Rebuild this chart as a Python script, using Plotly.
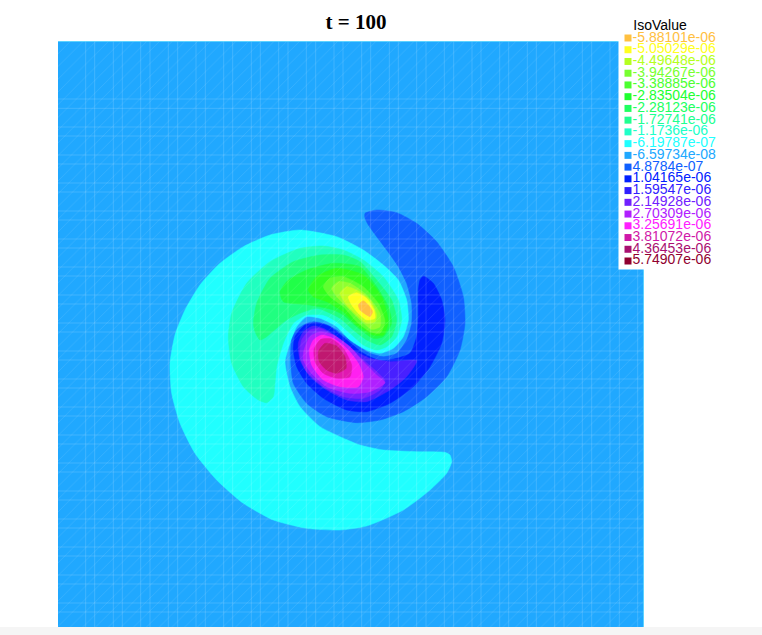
import plotly.graph_objects as go

iso_labels = ["-5.88101e-06","-5.05029e-06","-4.49648e-06","-3.94267e-06","-3.38885e-06","-2.83504e-06","-2.28123e-06",
              "-1.72741e-06","-1.1736e-06","-6.19787e-07","-6.59734e-08","4.8784e-07","1.04165e-06","1.59547e-06",
              "2.14928e-06","2.70309e-06","3.25691e-06","3.81072e-06","4.36453e-06","5.74907e-06"]
iso_colors = ["#ffc040","#ffff20","#b4ff20","#78ff30","#4cff30","#20ff30","#20ff60","#20ff90","#20ffc8","#20ffff",
              "#20a8ff","#1060ff","#0020ff","#3020ff","#7020ff","#b020ff","#ff20ff","#d018a8","#a81070","#900030"]

# Iso-contour outlines, in the field's own x / y units
cyan_x = [885,800,700,630,570,510,450,420,405,420,440,470,510,560,600,650,690,730,760,775,770,745,700,640,560,450,360,280,210,150,105,75,60,65,90,135,200,280,370,470,570,650,760,840,890,905,900]
cyan_y = [787,785,780,765,740,710,650,590,515,460,410,380,385,410,450,480,490,475,440,390,330,270,225,180,140,120,135,170,220,285,360,435,520,610,700,790,870,940,990,1015,1020,1008,960,900,850,815,795]

p05_x = [645,680,740,800,860,910,940,945,930,890,830,760,690,620,530,470,430,422,425,440,470,490,520,560,610,660,700,740,770,785,785,770,745,710,680,655,645]
p05_y = [70,60,68,100,155,230,320,400,480,560,620,665,690,698,680,640,580,510,450,420,400,395,400,420,460,490,500,490,450,400,340,280,230,180,140,105,85]

p10_x = [820,850,875,885,875,840,790,720,650,590,520,470,440,430,435,465,500,540,590,640,690,740,780,800,805,805,810]
p10_y = [258,280,330,390,460,530,590,640,665,660,625,580,530,480,440,405,398,410,450,490,512,505,490,440,380,300,270]

p16_x = [800,770,720,650,590,530,480,450,445,460,490,520,560,610,660,720]
p16_y = [512,560,600,635,630,600,560,510,460,425,408,415,440,480,505,515]

p21_x = [705,690,640,580,520,470,450,455,480,510,540,590,640,680]
p21_y = [572,600,625,620,590,545,500,450,420,415,430,470,510,545]

p27_x = [705,660,600,530,480,460,462,480,510,550,600,640,680]
p27_y = [578,605,610,590,545,510,480,440,425,435,470,515,555]

p33_x = [478,490,515,550,590,625,640,625,570,520,485]
p33_y = [480,450,435,445,475,520,560,590,590,570,525]

p38_x = [492,512,545,580,605,600,560,520,495]
p38_y = [478,448,447,475,525,560,565,550,515]

p44_x = [505,525,560,585,588,560,530,508]
p44_y = [485,460,468,500,535,550,540,515]

n12_x = [235,245,290,360,450,520,580,640,700,745,755,740,710,680,640,600,560,520,470,430,400,380,375,370,350,325,280,245]
n12_y = [440,370,280,215,175,168,180,210,260,330,390,440,470,480,465,430,395,375,375,400,460,530,580,620,638,630,590,520]

n17_x = [310,320,360,430,510,580,630,680,725,740,725,690,650,610,570,530,500,450,410,380,350,330,315]
n17_y = [400,340,265,215,195,195,215,270,330,390,440,465,450,420,385,365,355,370,390,415,440,450,425]

n23_x = [390,415,470,550,630,680,715,725,700,670,620,580,550,480,400]
n23_y = [305,270,240,220,230,290,350,400,440,445,410,375,360,345,335]

n28_x = [475,500,560,640,695,715,700,670,620,580,530,490]
n28_y = [300,260,235,255,320,395,435,435,405,365,335,320]

n34_x = [520,540,580,640,685,705,690,660,620,580,540]
n34_y = [290,265,260,290,340,395,430,425,395,350,320]

n39_x = [545,565,600,650,690,690,665,630,590,560]
n39_y = [295,275,280,315,370,410,418,390,350,320]

n45_x = [570,590,620,660,680,675,650,620,590]
n45_y = [310,290,300,330,375,395,400,375,345]

n50_x = [595,620,650,672,675,650,625,605]
n50_y = [320,308,325,360,385,390,370,345]

n59_x = [625,640,655,668,660,645,630]
n59_y = [345,332,345,365,380,372,360]

contours = [
    (cyan_x, cyan_y, "#20ffff"),
    (p05_x, p05_y, "#1060ff"), (p10_x, p10_y, "#0020ff"), (p16_x, p16_y, "#4820ff"),
    (p21_x, p21_y, "#7820ff"), (p27_x, p27_y, "#b020ff"), (p33_x, p33_y, "#ff20f0"),
    (p38_x, p38_y, "#e018b0"), (p44_x, p44_y, "#c01870"),
    (n12_x, n12_y, "#20ffc0"), (n17_x, n17_y, "#20ff80"), (n23_x, n23_y, "#20ff48"), (n28_x, n28_y, "#30ff20"),
    (n34_x, n34_y, "#60ff30"), (n39_x, n39_y, "#90ff30"), (n45_x, n45_y, "#c0ff20"),
    (n50_x, n50_y, "#ffff20"), (n59_x, n59_y, "#ffc040"),
]

# Field extent and mesh lines, same units
x_limits = [-276, 1482]
y_limits = [-447, 1311]
mesh_x = [-193,-166,-110,-83,-28,0,55,83,138,166,221,248,304,331,386,414,469,497,552,579,635,662,718,745,800,828,883,911,966,993,1049,1076,1132,1159,1214,1242,1297,1325,1380,1408,1463]
mesh_y = [-273,-245,-189,-162,-105,-78,-21,6,63,90,147,174,231,258,315,342,399,426,483,510,567,594,651,678,735,762,819,846,903,930,987,1014,1071,1098,1155,1182,1239,1266]
legend_box_x = [1410, 1482]
legend_box_y = [-447, 234]

box_x = [x_limits[0], x_limits[1], x_limits[1], x_limits[0], x_limits[0]]
box_y = [y_limits[0], y_limits[0], y_limits[1], y_limits[1], y_limits[0]]

fig = go.Figure()
fig.add_trace(go.Scatter(x=box_x, y=box_y, mode="lines", fill="toself", fillcolor="#20a8ff",
                         line=dict(width=0), hoverinfo="skip"))
for xs, ys, color in contours:
    fig.add_trace(go.Scatter(x=xs + xs[:1], y=ys + ys[:1], mode="lines", fill="toself", fillcolor=color,
                             line=dict(color=color, width=0.5, shape="spline", smoothing=0.6), hoverinfo="skip"))

# Triangulation mesh drawn over the field
gx, gy = [], []
for v in mesh_x:
    gx += [v, v, None]; gy += [y_limits[0], y_limits[1], None]
for v in mesh_y:
    gx += [x_limits[0], x_limits[1], None]; gy += [v, v, None]
fig.add_trace(go.Scatter(x=gx, y=gy, mode="lines", line=dict(color="rgba(255,255,255,0.15)", width=1), hoverinfo="skip"))
fig.add_trace(go.Scatter(
    x=box_x, y=box_y,
    mode="lines", fill="toself", fillcolor="rgba(0,0,0,0)", line=dict(width=0), hoverinfo="skip",
    fillpattern=dict(shape="/", size=9, solidity=0.08, fgcolor="rgba(255,255,255,0.25)", bgcolor="rgba(0,0,0,0)")))
# Top / right edge
fig.add_trace(go.Scatter(x=[x_limits[0], x_limits[1], x_limits[1]], y=[y_limits[0], y_limits[0], y_limits[1]],
                         mode="lines", line=dict(color="#70e0ff", width=1.5), hoverinfo="skip"))
# Legend backing
fig.add_trace(go.Scatter(
    x=[legend_box_x[0], legend_box_x[1], legend_box_x[1], legend_box_x[0], legend_box_x[0]],
    y=[legend_box_y[0], legend_box_y[0], legend_box_y[1], legend_box_y[1], legend_box_y[0]],
    mode="lines", fill="toself", fillcolor="white", line=dict(width=3, color="white"), hoverinfo="skip", cliponaxis=False))
# Legend
rows = list(range(len(iso_labels)))
fig.add_trace(go.Scatter(x=[0] * len(rows), y=rows, xaxis="x2", yaxis="y2", mode="markers",
                         marker=dict(symbol="square", size=7, color=iso_colors), hoverinfo="skip", cliponaxis=False))
fig.add_trace(go.Scatter(x=[0.034] * len(rows), y=rows, xaxis="x2", yaxis="y2", mode="text", text=iso_labels,
                         textposition="middle right", cliponaxis=False,
                         textfont=dict(family="Liberation Sans", size=14, color=iso_colors), hoverinfo="skip"))
fig.add_trace(go.Scatter(x=[0.04], y=[-1], xaxis="x2", yaxis="y2", mode="text", text=["IsoValue"],
                         textposition="middle right", cliponaxis=False,
                         textfont=dict(family="Liberation Sans", size=14, color="black"), hoverinfo="skip"))

W, H = 762, 635
fig.update_layout(
    width=W, height=H, margin=dict(l=0, r=0, t=0, b=0), showlegend=False,
    paper_bgcolor="rgba(0,0,0,0)", plot_bgcolor="rgba(0,0,0,0)",
    title=dict(text="<b>t = 100</b>", x=356 / W, y=1 - 22 / H, xanchor="center", yanchor="middle",
               font=dict(family="Liberation Serif", size=21, color="black")),
    xaxis=dict(domain=[58 / W, 644 / W], range=x_limits, visible=False, fixedrange=True),
    yaxis=dict(domain=[1 - 627 / H, 1 - 41 / H], range=[y_limits[1], y_limits[0]], visible=False, fixedrange=True),
    xaxis2=dict(domain=[628 / W, 1], range=[0, 1], visible=False, anchor="y2", fixedrange=True),
    yaxis2=dict(domain=[1 - 272.74 / H, 1 - 26.26 / H], range=[20, -1], visible=False, anchor="x2", fixedrange=True),
    shapes=[dict(type="rect", xref="paper", yref="paper", x0=0, x1=1, y0=0, y1=8 / H,
                 fillcolor="#f5f5f5", line=dict(width=0), layer="below")],
)
fig.write_html("out.html", config={"displayModeBar": False},
               post_script="document.body.style.margin='0';document.documentElement.style.overflow='hidden';")
